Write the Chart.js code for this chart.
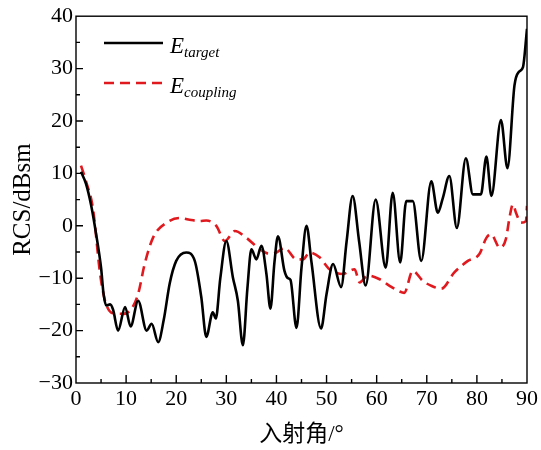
<!DOCTYPE html>
<html>
<head>
  <meta charset="UTF-8">
  <title>RCS</title>
  <script src="https://cdn.jsdelivr.net/npm/chart.js"></script>
  <style>
    body { margin: 0; padding: 0; background: #fff; }
    #wrap { width: 541px; height: 450px; }
  </style>
</head>
<body>
  <div id="wrap"><canvas id="rcs" width="541" height="450"></canvas></div>

  <script>
    // E_target
    const targetAngle = [1, 2, 3, 4, 5, 5.5, 6, 6.8, 7.4, 8.4, 9.8, 10.9, 12.4, 14.1, 15.1, 16.4, 17.5, 18.7, 20, 22,
      23.7, 25, 26, 27.3, 27.9, 28.8, 30, 31.3, 32.3, 33.3, 34.2, 35, 36, 37, 38, 38.8, 39.6, 40.3, 41.6, 42.3,
      42.8, 44, 45, 46, 47, 48.9, 50, 51.3, 52.9, 54, 55.2, 56.5, 57.8, 59.8, 61.8, 63.2, 64.7, 65.9, 67.2, 68.9,
      70.9, 72.2, 73.2, 74.5, 76, 77.8, 79.2, 80.8, 81.9, 82.9, 84.8, 86.1, 87.5, 88.4, 89.2, 90];
    const targetRcs = [10.3, 8, 4, -1.5, -8, -13, -15.2, -15, -16, -20, -15.5, -19.2, -14.3, -20, -18.7, -22.2, -18, -11, -6.7, -5.1,
      -6.7, -13.6, -21.2, -16.5, -17.7, -10, -2.9, -9.8, -14.3, -22.8, -12, -4.5, -6.4, -3.8, -9.2, -15.8, -7, -2, -8.6, -10,
      -10.3, -19.5, -8, 0, -7, -19.6, -13, -7.3, -11.7, -3, 5.7, -3, -11.4, 5, -8, 6.3, -7, 4.7, 4.7, -6.7,
      8.5, 2.5, 5.3, 9.5, -0.4, 12.9, 6, 6, 13.2, 5.7, 20.2, 11, 26.8, 29.4, 30.3, 37.6];

    // E_coupling
    const couplingAngle = [1, 2, 3.4, 4.8, 5.8, 7.4, 9.4, 11.1, 12.4, 13.7, 15.4, 18.1, 20.7, 22.4, 24.7, 26, 28, 29.7, 31.7, 34,
      36.7, 38.5, 40, 41.6, 44, 45.3, 46.6, 48.6, 50.6, 53.2, 55.6, 56.6, 58.2, 60.6, 62.5, 64.5, 65.5, 67.2, 69.2, 71,
      72.9, 75.5, 78.2, 80.5, 81.9, 82.8, 84.6, 85.8, 86.5, 87.2, 87.8, 88.8, 89.8, 90];
    const couplingRcs = [11.5, 8.5, 3.2, -9.1, -14.3, -16.7, -16.8, -15.8, -13, -7.3, -2.2, 0.6, 1.5, 1.2, 0.9, 1, 0, -2.9, -1, -2.3,
      -4.5, -5.3, -5.1, -4.2, -6.4, -6.4, -5.1, -6, -8.3, -9.2, -8.3, -10.8, -9.5, -10.2, -11.4, -12.5, -12.8, -8.6, -10.5, -11.5,
      -12, -8.9, -6.7, -5.4, -2.3, -1.6, -4.2, -2.5, 1.5, 4.1, 2.5, 0.6, 0.9, 3.8];

    const serif = "'Liberation Serif', 'Times New Roman', serif";
    const fmt = v => (v < 0 ? '\u2212' + Math.abs(v) : String(v));

    // frame, inward ticks and legend
    const decor = {
      id: 'decor',
      afterDraw(chart) {
        const ctx = chart.ctx;
        const a = chart.chartArea;
        const xs = chart.scales.x, ys = chart.scales.y;
        ctx.save();
        ctx.strokeStyle = '#000';
        ctx.lineWidth = 1.4;
        ctx.strokeRect(a.left, a.top, a.right - a.left, a.bottom - a.top);
        ctx.beginPath();
        for (let v = 5; v < 90; v += 5) {
          const px = xs.getPixelForValue(v);
          ctx.moveTo(px, a.bottom);
          ctx.lineTo(px, a.bottom - (v % 10 === 0 ? 8 : 4));
        }
        for (let v = -25; v < 40; v += 5) {
          const py = ys.getPixelForValue(v);
          ctx.moveTo(a.left, py);
          ctx.lineTo(a.left + (v % 10 === 0 ? 7 : 4), py);
        }
        ctx.stroke();

        // legend
        const items = [
          { sub: 'target', y: 43, ds: chart.data.datasets[0] },
          { sub: 'coupling', y: 83, ds: chart.data.datasets[1] }
        ];
        items.forEach(it => {
          ctx.beginPath();
          ctx.strokeStyle = it.ds.borderColor;
          ctx.lineWidth = 2.6;
          ctx.setLineDash(it.ds.borderDash || []);
          ctx.moveTo(104, it.y);
          ctx.lineTo(163, it.y);
          ctx.stroke();
          ctx.setLineDash([]);
          ctx.fillStyle = '#000';
          ctx.textBaseline = 'alphabetic';
          ctx.font = 'italic 23px ' + serif;
          ctx.fillText('E', 170, it.y + 10);
          const w = ctx.measureText('E').width;
          ctx.font = 'italic 15px ' + serif;
          ctx.fillText(it.sub, 170 + w, it.y + 14);
        });
        ctx.restore();
      }
    };

    new Chart(document.getElementById('rcs'), {
      type: 'line',
      data: {
        datasets: [
          {
            label: 'E_target',
            data: targetAngle.map((x, i) => ({ x, y: targetRcs[i] })),
            borderColor: '#000',
            borderWidth: 2.6,
            pointRadius: 0,
            cubicInterpolationMode: 'monotone'
          },
          {
            label: 'E_coupling',
            data: couplingAngle.map((x, i) => ({ x, y: couplingRcs[i] })),
            borderColor: '#e0191e',
            borderWidth: 2.6,
            borderDash: [10, 6],
            pointRadius: 0,
            cubicInterpolationMode: 'monotone'
          }
        ]
      },
      options: {
        responsive: false,
        animation: false,
        layout: { padding: { left: 0, right: 13, top: 14, bottom: 0 } },
        plugins: { legend: { display: false }, tooltip: { enabled: false } },
        scales: {
          x: {
            type: 'linear',
            min: 0, max: 90,
            afterFit: s => { s.height = 67; },
            grid: { display: false, drawTicks: false },
            border: { display: false },
            ticks: {
              stepSize: 10, padding: 3, color: '#000', maxRotation: 0,
              font: { family: serif, size: 22 },
              callback: v => fmt(v)
            },
            title: {
              display: true, text: '入射角/°', color: '#000',
              font: { family: serif + ", 'Noto Sans CJK SC'", size: 23 },
              padding: { top: 0, bottom: 1 }
            }
          },
          y: {
            min: -30, max: 40,
            afterFit: s => { s.width = 76; },
            grid: { display: false, drawTicks: false },
            border: { display: false },
            ticks: {
              stepSize: 10, padding: 3, color: '#000',
              font: { family: serif, size: 22 },
              callback: v => fmt(v)
            },
            title: {
              display: true, text: 'RCS/dBsm', color: '#000',
              font: { family: serif, size: 25 },
              padding: { top: 8, bottom: 0 }
            }
          }
        }
      },
      plugins: [decor]
    });
  </script>
</body>
</html>
